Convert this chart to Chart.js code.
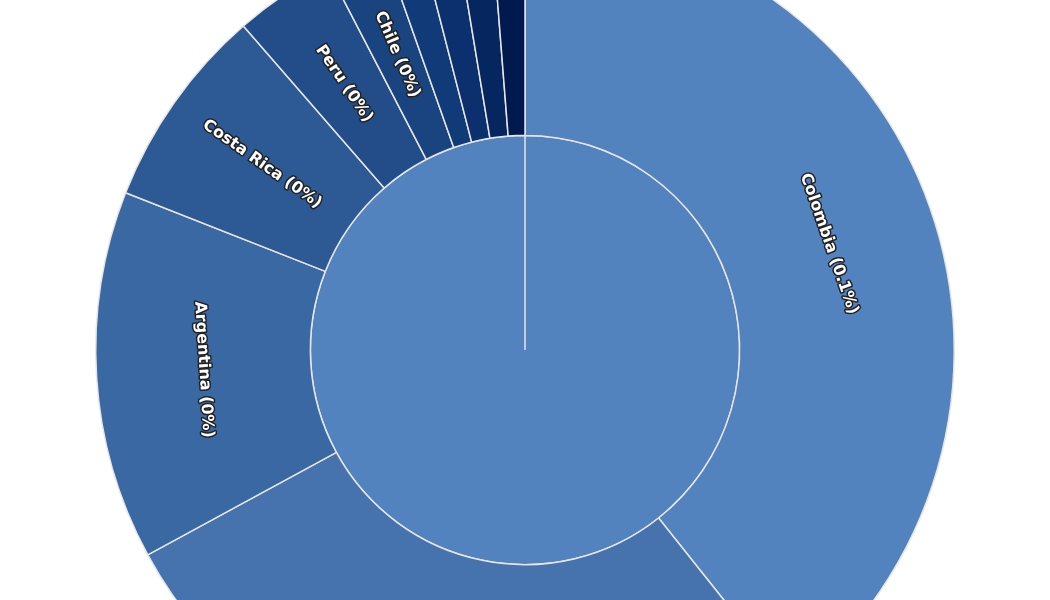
<!DOCTYPE html>
<html><head><meta charset="utf-8">
<script src="https://cdn.jsdelivr.net/npm/chart.js@4/dist/chart.umd.min.js"></script>
<style>html,body{margin:0;padding:0;width:1050px;height:600px;overflow:hidden;background:#fff}
#wrap{position:absolute;left:0;top:-80px;width:1050px;height:860px}</style>
</head><body><div id="wrap"><canvas id="c" width="1050" height="860"></canvas></div>
<script>
const categories = ["Colombia","Brazil","Argentina","Costa Rica","Peru","Chile","Ecuador","Uruguay","Panama","Bolivia"];
const values = [141.5,100,50,27.5,13.6,8,5,5,4.9,4.5];
const labelsShown = ["Colombia (0.1%)","","Argentina (0%)","Costa Rica (0%)","Peru (0%)","Chile (0%)","","","",""];
const colors = ["#5383be","#4673ad","#3a68a3","#2d5a94","#234d88","#1a4480","#113a78","#0b306d","#062660","#001a50"];
const rootLabel = ["Total"];
const rootValue = [1];

const labelPlugin = {
  id:'sbLabels',
  afterDatasetsDraw(chart){
    const ctx = chart.ctx;
    const meta = chart.getDatasetMeta(0);
    meta.data.forEach((arc,i)=>{
      const txt = labelsShown[i]; if(!txt) return;
      const mid = (arc.startAngle+arc.endAngle)/2;
      const r = (arc.innerRadius+arc.outerRadius)/2;
      const x = arc.x + Math.cos(mid)*r, y = arc.y + Math.sin(mid)*r;
      const theta = mid + Math.PI/2; // clockwise from top
      const span = arc.endAngle-arc.startAngle;
      let rot;
      if (span > 0.7) rot = theta > Math.PI ? theta - Math.PI : theta;
      else rot = theta - 1.5*Math.PI;
      ctx.save();
      ctx.translate(x,y); ctx.rotate(rot);
      ctx.font = 'bold 16px "DejaVu Sans"';
      ctx.textAlign='center'; ctx.textBaseline='middle';
      ctx.lineWidth=3; ctx.strokeStyle='#222'; ctx.lineJoin='round';
      ctx.strokeText(txt,0,0);
      ctx.fillStyle='#fff'; ctx.fillText(txt,0,0);
      ctx.restore();
    });
  }
};

new Chart(document.getElementById('c'),{
  type:'doughnut',
  data:{labels:categories,datasets:[
    {data:values,backgroundColor:colors,borderColor:'#e6e6e6',borderWidth:1.5},
    {data:rootValue,backgroundColor:['#5383be'],borderColor:'#e6e6e6',borderWidth:1.5}
  ]},
  options:{responsive:false,animation:false,cutout:0,
    layout:{padding:0},
    plugins:{legend:{display:false},tooltip:{enabled:false}}},
  plugins:[labelPlugin]
});
</script></body></html>
